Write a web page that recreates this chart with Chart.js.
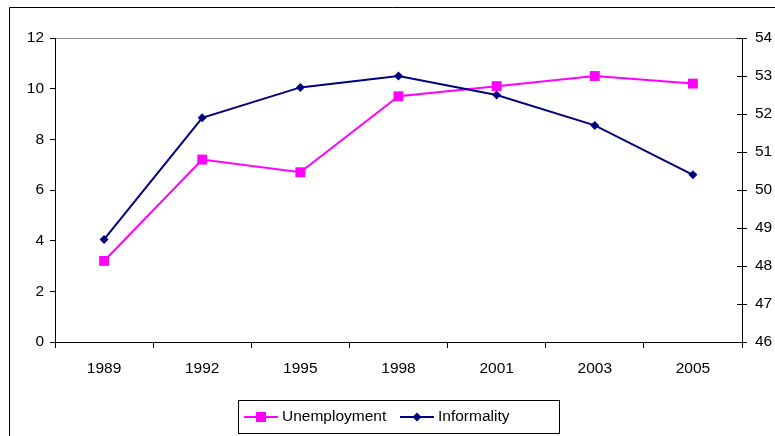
<!DOCTYPE html>
<html><head><meta charset="utf-8">
<script src="https://cdn.jsdelivr.net/npm/chart.js@4/dist/chart.umd.min.js"></script>
<style>html,body{margin:0;padding:0;background:#fff;}#wrap{width:775px;height:436px;position:relative;}</style>
</head><body><div id="wrap"><canvas id="c" width="775" height="436"></canvas></div>
<script>
const categories = ['1989','1992','1995','1998','2001','2003','2005'];
const unemployment = [3.2, 7.2, 6.7, 9.7, 10.1, 10.5, 10.2];
const informality = [48.7, 51.9, 52.7, 53.0, 52.5, 51.7, 50.4];
const seriesNames = ['Unemployment', 'Informality'];
const leftTicks = {min: 0, max: 12, step: 2};
const rightTicks = {min: 46, max: 54, step: 1};

const FONT = {family: '"Liberation Sans", Arial, sans-serif', size: 15.5};
const MAGENTA = '#FF00FF', NAVY = '#000080';

const extras = {
  id: 'extras',
  afterDraw(chart) {
    const ctx = chart.ctx;
    ctx.save();
    // outer frame
    ctx.strokeStyle = '#000'; ctx.lineWidth = 1;
    ctx.beginPath();
    ctx.moveTo(9.5, 440); ctx.lineTo(9.5, 7.5); ctx.lineTo(780, 7.5);
    ctx.stroke();
    // inner ticks on right axis
    const y1 = chart.scales.y1;
    ctx.beginPath();
    y1.ticks.forEach(t => {
      const py = Math.round(y1.getPixelForValue(t.value)) + 0.5;
      ctx.moveTo(y1.left - 5, py); ctx.lineTo(y1.left, py);
    });
    ctx.stroke();
    // legend
    ctx.strokeStyle = '#000';
    ctx.strokeRect(238.5, 400.5, 321, 33);
    ctx.font = FONT.size + 'px ' + FONT.family;
    ctx.fillStyle = '#000';
    ctx.textBaseline = 'middle';
    const ly = 417;
    // unemployment
    ctx.strokeStyle = MAGENTA; ctx.lineWidth = 2;
    ctx.beginPath(); ctx.moveTo(244, ly); ctx.lineTo(278, ly); ctx.stroke();
    ctx.fillStyle = MAGENTA; ctx.fillRect(256, ly - 5, 10, 10);
    ctx.fillStyle = '#000'; ctx.fillText(chart.data.datasets[0].label, 282, ly);
    // informality
    ctx.strokeStyle = NAVY;
    ctx.beginPath(); ctx.moveTo(400, ly); ctx.lineTo(434, ly); ctx.stroke();
    ctx.fillStyle = NAVY;
    ctx.beginPath();
    ctx.moveTo(417, ly - 4.5); ctx.lineTo(421.5, ly); ctx.lineTo(417, ly + 4.5); ctx.lineTo(412.5, ly); ctx.closePath(); ctx.fill();
    ctx.fillStyle = '#000'; ctx.fillText(chart.data.datasets[1].label, 438, ly);
    ctx.restore();
  }
};

new Chart(document.getElementById('c'), {
  type: 'line',
  data: {
    labels: categories,
    datasets: [
      {label: seriesNames[0], data: unemployment, yAxisID: 'y', borderColor: MAGENTA, backgroundColor: MAGENTA,
       borderWidth: 2, pointStyle: 'rect', pointRadius: 7, pointHoverRadius: 7, pointBorderWidth: 0, tension: 0, order: 2},
      {label: seriesNames[1], data: informality, yAxisID: 'y1', borderColor: NAVY, backgroundColor: NAVY,
       borderWidth: 2, pointStyle: 'rectRot', pointRadius: 4.5, pointHoverRadius: 4.5, pointBorderWidth: 0, tension: 0, order: 1}
    ]
  },
  options: {
    responsive: false, animation: false,
    layout: {padding: {top: 38, left: 0, right: 0, bottom: 0}},
    plugins: {legend: {display: false}, tooltip: {enabled: false}},
    scales: {
      x: {
        type: 'category', offset: true,
        grid: {offset: true, drawOnChartArea: false, tickLength: 6, color: '#000', lineWidth: 1},
        border: {color: '#000', width: 1},
        ticks: {font: FONT, color: '#000', padding: 11, maxRotation: 0, autoSkip: false},
        afterFit: s => { s.height = 94; }
      },
      y: {
        position: 'left', min: leftTicks.min, max: leftTicks.max,
        ticks: {stepSize: leftTicks.step, font: FONT, color: '#000', padding: 6},
        grid: {drawOnChartArea: true, color: c => (c.tick && c.tick.value === leftTicks.max) ? '#8c8c8c' : 'rgba(0,0,0,0)',
               tickColor: '#000', tickLength: 5, lineWidth: 1},
        border: {color: '#000', width: 1},
        afterFit: s => { s.width = 55; }
      },
      y1: {
        position: 'right', min: rightTicks.min, max: rightTicks.max,
        ticks: {stepSize: rightTicks.step, font: FONT, color: '#000', padding: 8},
        grid: {drawOnChartArea: false, tickColor: '#000', tickLength: 5, lineWidth: 1},
        border: {color: '#000', width: 1},
        afterFit: s => { s.width = 33; }
      }
    }
  },
  plugins: [extras]
});
</script></body></html>
